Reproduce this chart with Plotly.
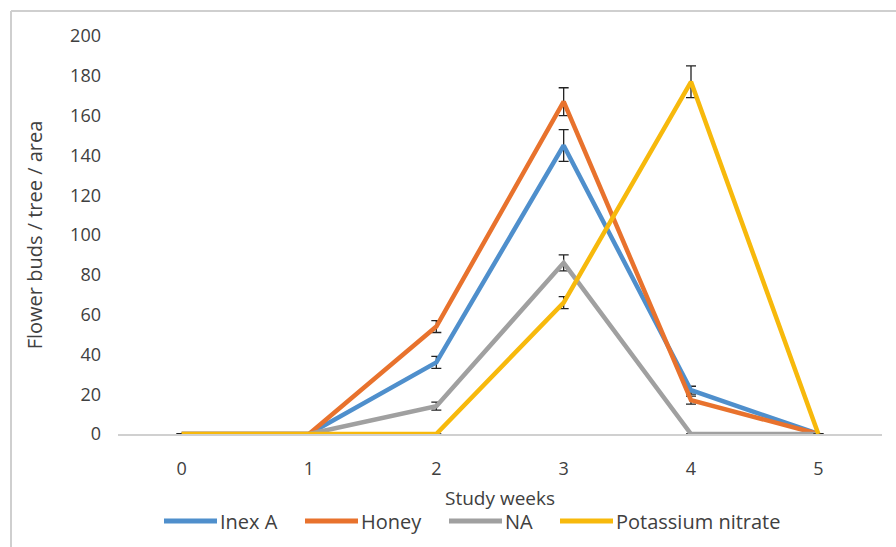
import plotly.graph_objects as go

weeks = [0, 1, 2, 3, 4, 5]
inex_a = [0, 0, 36, 145, 22, 0]
inex_a_err = [0, 0, 3, 8, 2, 0]
honey = [0, 0, 54, 167, 17, 0]
honey_err = [0, 0, 3, 7, 2, 0]
na = [0, 0, 14, 86, 0, 0]
na_err = [0, 0, 2, 4, 0, 0]
potassium = [0, 0, 0, 66, 177, 0]
potassium_err = [0, 0, 0, 3, 8, 0]

series = [
    ("Inex A", inex_a, inex_a_err, "#4f8fcc"),
    ("Honey", honey, honey_err, "#e8722d"),
    ("NA", na, na_err, "#a0a0a0"),
    ("Potassium nitrate", potassium, potassium_err, "#f7b90c"),
]

fig = go.Figure()
for name, vals, err, col in series:
    fig.add_trace(go.Scatter(
        x=weeks, y=vals, name=name, mode="lines",
        line=dict(color=col, width=4.5),
        error_y=dict(type="data", array=err, visible=True, color="#222222",
                     thickness=1.3, width=5),
        showlegend=False,
    ))

W, H = 896, 547
L, R, T, B = 118, 14, 36, 113
pw, ph = W - L - R, H - T - B

def px(x):
    return (x - L) / pw

def py(y):
    return (H - B - y) / ph

border = "#cfcfcf"
fig.add_shape(type="line", xref="paper", yref="paper",
              x0=px(11), x1=px(W + 5), y0=py(11), y1=py(11),
              line=dict(color=border, width=2))
fig.add_shape(type="line", xref="paper", yref="paper",
              x0=px(11), x1=px(11), y0=py(11), y1=py(H + 5),
              line=dict(color=border, width=2))

# custom legend (long line swatches like the reference)
font = "Open Sans, Noto Sans, sans-serif"
txt_col = "#404040"
leg_y = 521
leg_x = [164, 305, 449, 560]
sw_len = 53
for (name, _, _, col), x0 in zip(series, leg_x):
    fig.add_shape(type="line", xref="paper", yref="paper",
                  x0=px(x0), x1=px(x0 + sw_len), y0=py(leg_y), y1=py(leg_y),
                  line=dict(color=col, width=5))
    fig.add_annotation(xref="paper", yref="paper", x=px(x0 + sw_len + 1), y=py(leg_y),
                       text=name, showarrow=False, xanchor="left", yanchor="middle",
                       font=dict(size=20, color=txt_col, family=font))

fig.update_layout(
    width=W, height=H,
    margin=dict(l=L, r=R, t=T, b=B),
    paper_bgcolor="white", plot_bgcolor="white",
    font=dict(family=font, color=txt_col, size=18),
    showlegend=False,
    xaxis=dict(
        range=[-0.5, 5.5], tickmode="array", tickvals=weeks,
        ticktext=[str(w) for w in weeks],
        showgrid=False, zeroline=False, showline=True, linecolor="#d0d0d0",
        linewidth=1.5, ticks="", tickfont=dict(size=18, color=txt_col),
        ticklabelstandoff=18,
        title=dict(text="Study weeks", font=dict(size=19, color=txt_col), standoff=12),
    ),
    yaxis=dict(
        range=[0, 200], tickmode="array", tickvals=list(range(0, 201, 20)),
        showgrid=False, zeroline=False, showline=False, ticks="",
        tickfont=dict(size=18, color=txt_col), ticklabelstandoff=16,
        title=dict(text="Flower buds / tree / area", font=dict(size=20, color=txt_col),
                   standoff=22),
    ),
)

fig.write_html("out.html")
